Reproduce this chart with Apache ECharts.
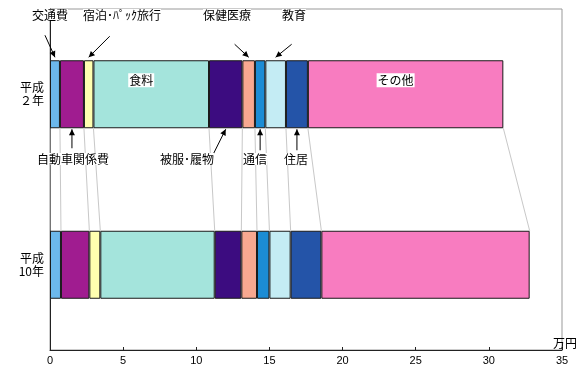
<!DOCTYPE html>
<html><head><meta charset="utf-8">
<script src="https://cdn.jsdelivr.net/npm/echarts@6/dist/echarts.min.js"></script>
<style>html,body{margin:0;padding:0;background:#fff}#c{width:577px;height:371px}</style>
</head><body><div id="c"></div>
<script>
const years = ['平成\n２年', '平成\n10年'];
const itemNames = ['交通費','自動車関係費','宿泊･ﾊﾟｯｸ旅行','食料','被服･履物','保健医療','通信','教育','住居','その他'];
const valuesH2  = [0.68, 1.64, 0.65, 7.90, 2.28, 0.86, 0.71, 1.41, 1.50, 13.36];
const valuesH10 = [0.75, 1.94, 0.75, 7.82, 1.82, 1.07, 0.85, 1.45, 2.10, 14.24];
const xTicks = [0, 5, 10, 15, 20, 25, 30, 35];
const colors = ['#6cb8ec','#a01c90','#ffffb0','#a4e4dc','#3c0c80','#f8a890','#1c8cd4','#c4ecf4','#2454a8','#f87cc0'];
const insideLabels = ['食料','その他'];

const barW = 68;
function cum(a){const r=[0];a.forEach(v=>r.push(+(r[r.length-1]+v).toFixed(4)));return r;}
const cH2 = cum(valuesH2), cH10 = cum(valuesH10);
const bounds = cH2.map((v,i)=>[v, cH10[i]]);

const chart = echarts.init(document.getElementById('c'), null, {renderer:'canvas'});
const font = '"Noto Sans CJK JP", sans-serif';
const series = itemNames.map((n,i)=>({
  type:'bar', name:n, stack:'s', barWidth:barW,
  data:[
    insideLabels.includes(n) ? {value:valuesH2[i], label:{
      show:true, position:'inside', offset:[-10,-14], formatter:n,
      color:'#000', fontSize:12, fontFamily:font, backgroundColor:'#fff', padding:[1,1]}} : valuesH2[i],
    valuesH10[i]
  ],
  itemStyle:{color:colors[i], borderColor:'#1a1a1a', borderWidth:1},
  label:{show:false},
  emphasis:{disabled:true}, silent:true
}));
series.push({
  type:'custom', silent:true, z:1,
  data: bounds,
  renderItem:(params, api)=>{
    const p1 = api.coord([api.value(0), 0]);
    const p2 = api.coord([api.value(1), 1]);
    return {type:'line', shape:{x1:p1[0], y1:p1[1]+barW/2, x2:p2[0], y2:p2[1]-barW/2},
      style:{stroke:'#c8c8c8', lineWidth:1}};
  }
});

chart.setOption({
  animation:false,
  backgroundColor:'#fff',
  grid:{left:50, right:15, top:9, bottom:21, show:true, borderColor:'#999', borderWidth:1},
  xAxis:{type:'value', min:0, max:35, interval:5,
    axisLine:{show:true, lineStyle:{color:'#222', width:1}},
    axisTick:{show:true, inside:true, length:3, lineStyle:{color:'#222'}},
    splitLine:{show:false},
    axisLabel:{color:'#000', fontSize:11, fontFamily:'"Liberation Sans", Arial, sans-serif', margin:5,
      formatter:(v)=> xTicks.includes(v) ? String(v) : ''}
  },
  yAxis:{type:'category', data:years, inverse:true,
    axisLine:{show:true, lineStyle:{color:'#222', width:1}},
    axisTick:{show:false},
    axisLabel:{color:'#000', fontSize:12, fontFamily:font, lineHeight:13, margin:6, align:'right'}
  },
  series
});

// annotations with arrows (tips computed from data)
const ann = [
  {name:'交通費', row:0, side:'top', tx:32, ty:9, dx:-10, dy:-22},
  {name:'宿泊･ﾊﾟｯｸ旅行', row:0, side:'top', tx:83, ty:9, dx:21, dy:-21},
  {name:'保健医療', row:0, side:'top', tx:203, ty:9, dx:-14, dy:-13},
  {name:'教育', row:0, side:'top', tx:282, ty:9, dx:16, dy:-13},
  {name:'自動車関係費', row:0, side:'bottom', tx:37, ty:153, dx:0, dy:19},
  {name:'被服･履物', row:0, side:'bottom', tx:160, ty:153, dx:-13, dy:26},
  {name:'通信', row:0, side:'bottom', tx:243, ty:153, dx:0, dy:21},
  {name:'住居', row:0, side:'bottom', tx:284, ty:153, dx:0, dy:21}
];
const graphics = [];
ann.forEach(a=>{
  const i = itemNames.indexOf(a.name);
  const mid = cH2[i] + valuesH2[i]/2;
  const p = chart.convertToPixel({gridIndex:0}, [mid, a.row]);
  const tipX = p[0];
  const tipY = a.side==='top' ? p[1]-barW/2-3 : p[1]+barW/2+1;
  const tailX = tipX + a.dx, tailY = tipY + a.dy;
  graphics.push({type:'line', silent:true, z:10, shape:{x1:tailX,y1:tailY,x2:tipX,y2:tipY}, style:{stroke:'#000', lineWidth:1}});
  const ang = Math.atan2(tipY-tailY, tipX-tailX);
  const L=6, W=3;
  const bx = tipX - L*Math.cos(ang), by = tipY - L*Math.sin(ang);
  const nx = -Math.sin(ang)*W, ny = Math.cos(ang)*W;
  graphics.push({type:'polygon', silent:true, z:10, shape:{points:[[tipX,tipY],[bx+nx,by+ny],[bx-nx,by-ny]]}, style:{fill:'#000'}});
  graphics.push({type:'text', silent:true, z:11, left:a.tx, top:a.ty,
    style:{text:a.name, fill:'#000', font:'12px '+font, backgroundColor:'#fff'}});
});
graphics.push({type:'text', silent:true, z:11, left:553, top:337, style:{text:'万円', fill:'#000', font:'12px '+font}});
chart.setOption({graphic:graphics});
</script></body></html>
